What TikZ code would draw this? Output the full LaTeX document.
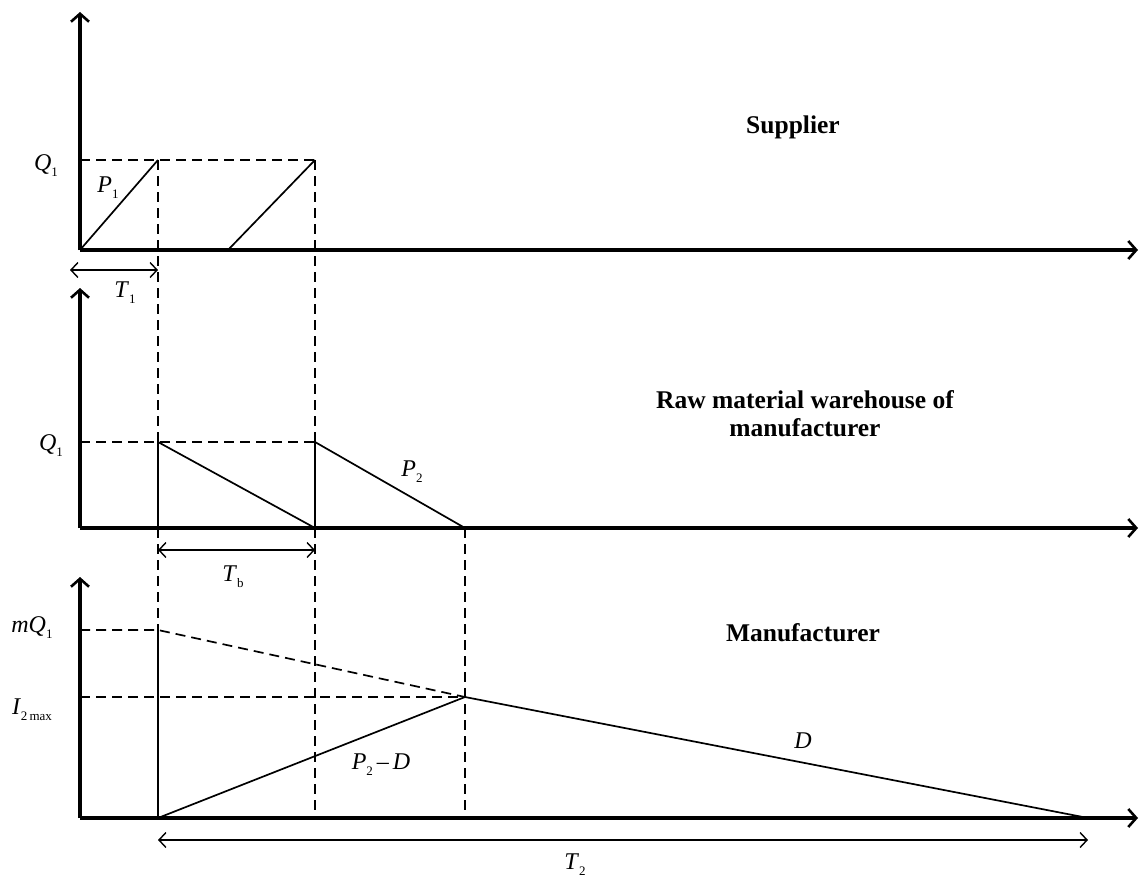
\documentclass[tikz,border=0pt]{standalone}
\usepackage{fontspec}
\setmainfont{Liberation Serif}
\usetikzlibrary{arrows.meta}

\newcommand{\sym}[2]{\textit{#1}\raisebox{-0.55ex}{\fontsize{13}{13}\selectfont #2}}

\tikzset{
    axe/.style={line width=3.4pt,-{Straight Barb[length=8pt,width=18pt,line width=2.6pt]}},
    trait/.style={line width=1.7pt},
    tirets/.style={line width=1.7pt,dash pattern=on 10pt off 6pt},
    duree/.style={line width=1.4pt,{Straight Barb[length=7pt,width=15pt]}-{Straight Barb[length=7pt,width=15pt]}},
    etiquette/.style={font=\fontsize{24}{27}\selectfont},
    titre/.style={font=\bfseries\fontsize{25.5}{28}\selectfont,align=center}
}

\begin{document}
\begin{tikzpicture}[x=1pt,y=-1pt]

\useasboundingbox (0,0) rectangle (1140,883);

% Axes
\foreach \yb/\yh in {250/12,528/288,818/577}
{
    \draw[axe] (80,\yb) -- (80,\yh);
    \draw[axe] (80,\yb) -- (1138,\yb);
}

% Fournisseur
\coordinate (s0) at (80,250);
\coordinate (s1) at (158,160);
\coordinate (s2) at (228,250);
\coordinate (s3) at (315,160);
\draw[tirets] (80,160) -- (s1) -- (s3);
\draw[trait] (s0) -- (s1);
\draw[trait] (s2) -- (s3);

% Verticales
\draw[tirets] (s1) -- (158,442);
\draw[tirets] (s3) -- (315,442);
\draw[tirets] (158,528) -- (158,630);
\draw[tirets] (315,528) -- (315,818);
\draw[tirets] (465,528) -- (465,818);

% Magasin
\coordinate (r1) at (158,442);
\coordinate (r2) at (315,442);
\coordinate (r3) at (315,528);
\coordinate (r4) at (465,528);
\draw[tirets] (80,442) -- (r1) -- (r2);
\draw[trait] (r1) -- (158,528);
\draw[trait] (r2) -- (r3);
\draw[trait] (r1) -- (r3);
\draw[trait] (r2) -- (r4);

% Fabricant
\coordinate (m1) at (158,630);
\coordinate (m2) at (465,697);
\coordinate (m3) at (158,818);
\coordinate (m4) at (1088,818);
\draw[tirets] (80,630) -- (m1) -- (m2);
\draw[tirets] (80,697) -- (m2);
\draw[trait] (m1) -- (m3);
\draw[trait] (m3) -- (m2) -- (m4);

% Durees
\draw[duree] (70,270) -- (158,270);
\draw[duree] (158,550) -- (315,550);
\draw[duree] (158,840) -- (1088,840);

% Etiquettes
\node[etiquette] (q1) at (46,166) {\sym{Q}{1}};
\node[etiquette] (p1) at (108,188) {\sym{P}{1}};
\node[etiquette] (t1) at (125,293) {\sym{T}{1}};
\node[etiquette] (q1b) at (51,446) {\sym{Q}{1}};
\node[etiquette] (p2) at (412,472) {\sym{P}{2}};
\node[etiquette] (tb) at (233,577) {\sym{T}{b}};
\node[etiquette] (mq1) at (32,628) {\textit{mQ}\raisebox{-0.55ex}{\fontsize{13}{13}\selectfont 1}};
\node[etiquette] (imax) at (32,710) {\sym{I}{2\,max}};
\node[etiquette] (p2d) at (381,765) {\sym{P}{2}\,--\,\textit{D}};
\node[etiquette] (dd) at (803,741) {\textit{D}};
\node[etiquette] (t2) at (575,865) {\sym{T}{2}};

\node[titre] (fourn) at (793,127) {Supplier};
\node[titre] (mag) at (805,414) {Raw material warehouse of\\manufacturer};
\node[titre] (fab) at (803,633) {Manufacturer};

\end{tikzpicture}
\end{document}
